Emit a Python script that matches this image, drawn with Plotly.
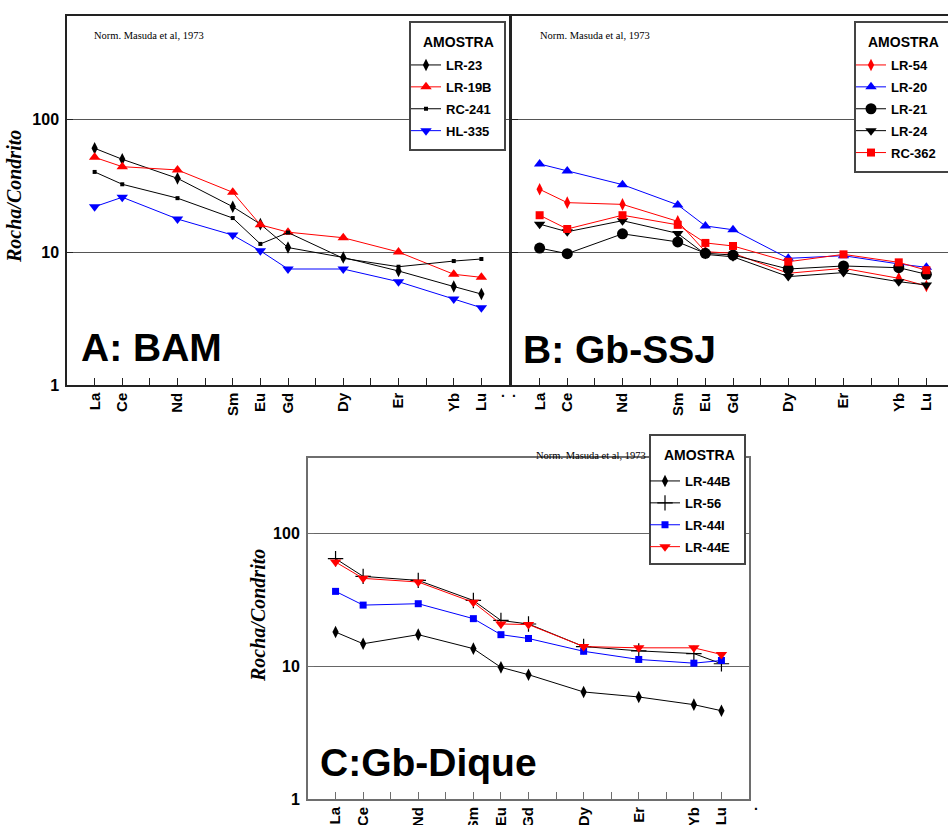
import plotly.graph_objects as go

# ---------------- data ----------------
elements = ["La", "Ce", "Nd", "Sm", "Eu", "Gd", "Dy", "Er", "Yb", "Lu"]
atomic_numbers = [57, 58, 60, 62, 63, 64, 66, 68, 70, 71]
tick_positions = list(range(57, 72))
tick_labels = ["La", "Ce", "", "Nd", "", "Sm", "Eu", "Gd", "", "Dy", "", "Er", "", "Yb", "Lu"]

# Panel A: BAM
a_lr23 = [60.2, 49.8, 35.8, 21.9, 16.2, 10.8, 9.1, 7.2, 5.5, 4.83]
a_lr19b = [51.5, 43.8, 41.4, 28.1, 16.0, 14.1, 12.8, 10.0, 6.8, 6.45]
a_rc241 = [40.0, 32.3, 25.4, 18.0, 11.5, 14.0, 8.96, 7.75, 8.55, 8.86]
a_hl335 = [21.9, 25.8, 17.7, 13.4, 10.2, 7.45, 7.45, 5.98, 4.43, 3.81]

# Panel B: Gb-SSJ
b_lr54 = [29.6, 23.5, 22.8, 17.0, 10.05, 9.78, 6.92, 7.54, 6.34, 5.55]
b_lr20 = [45.9, 40.6, 32.1, 22.6, 15.7, 14.7, 8.96, 9.38, 8.13, 7.67]
b_lr21 = [10.7, 9.71, 13.7, 11.9, 9.78, 9.49, 7.45, 7.85, 7.62, 6.8]
b_lr24 = [16.2, 14.2, 17.2, 13.8, 9.6, 9.2, 6.53, 7.0, 5.98, 5.65]
b_rc362 = [18.9, 14.9, 18.9, 16.0, 11.7, 11.1, 8.45, 9.6, 8.36, 7.3]

# Panel C: Gb-Dique
c_lr44b = [18.0, 14.7, 17.2, 13.5, 9.77, 8.6, 6.38, 5.85, 5.12, 4.61]
c_lr56 = [64.1, 47.2, 44.0, 31.1, 22.0, 20.7, 14.0, 13.0, 12.4, 10.4]
c_lr44i = [36.4, 28.7, 29.4, 22.7, 17.2, 16.1, 12.9, 11.2, 10.5, 11.0]
c_lr44e = [60.5, 45.6, 42.8, 30.1, 20.7, 20.5, 14.0, 13.7, 13.7, 12.2]

W, H = 948, 825
SANS = "Liberation Sans"
SERIF = "Liberation Serif"


def px_x(p):
    return p / W


def px_y(p):
    return (H - p) / H


fig = go.Figure()


def add(name, vals, color, symbol, size, xa, ya, leg, mline=0):
    fig.add_trace(go.Scatter(
        x=atomic_numbers, y=vals, mode="lines+markers", name=name,
        line=dict(color=color, width=1),
        marker=dict(symbol=symbol, size=size, color=color,
                    line=dict(width=mline, color=color)),
        xaxis=xa, yaxis=ya, legend=leg, legendgroup=name,
    ))


RED, BLUE, BLACK = "#ff0000", "#0000ff", "#000000"

add("LR-23", a_lr23, BLACK, "diamond-tall", 9, "x", "y", "legend")
add("LR-19B", a_lr19b, RED, "triangle-up", 10, "x", "y", "legend")
add("RC-241", a_rc241, BLACK, "square", 4, "x", "y", "legend")
add("HL-335", a_hl335, BLUE, "triangle-down", 10, "x", "y", "legend")

add("LR-54", b_lr54, RED, "diamond-tall", 9, "x2", "y2", "legend2")
add("LR-20", b_lr20, BLUE, "triangle-up", 10, "x2", "y2", "legend2")
add("LR-21", b_lr21, BLACK, "circle", 11, "x2", "y2", "legend2")
add("LR-24", b_lr24, BLACK, "triangle-down", 10, "x2", "y2", "legend2")
add("RC-362", b_rc362, RED, "square", 8, "x2", "y2", "legend2")

add("LR-44B", c_lr44b, BLACK, "diamond-tall", 9, "x3", "y3", "legend3")
add("LR-56", c_lr56, BLACK, "cross-thin", 11, "x3", "y3", "legend3", mline=1.2)
add("LR-44I", c_lr44i, BLUE, "square", 7, "x3", "y3", "legend3")
add("LR-44E", c_lr44e, RED, "triangle-down", 10, "x3", "y3", "legend3")


def xaxis(domain, rng, lc, lw, anchor, mirror=True):
    return dict(domain=domain, range=rng, tickmode="array", tickvals=tick_positions,
                ticktext=tick_labels, tickangle=-90, ticks="inside", ticklen=7,
                tickcolor=lc, tickwidth=1, showgrid=False, zeroline=False,
                showline=True, linecolor=lc, linewidth=lw, mirror=mirror,
                anchor=anchor, automargin=False,
                tickfont=dict(family=SANS, size=15, color="black", weight="bold"),
                fixedrange=True)


def yaxis(domain, rng, lc, lw, anchor, labels=True, mirror=True, gc="#555555"):
    return dict(domain=domain, range=rng, type="log", tickmode="array",
                tickvals=[1, 10, 100], ticktext=["1", "10", "100"],
                ticks="inside", ticklen=6, tickcolor=lc, showgrid=True,
                gridcolor=gc, gridwidth=1, zeroline=False, showline=True,
                linecolor=lc, linewidth=lw, mirror=mirror, anchor=anchor,
                showticklabels=labels, ticklabelstandoff=3, automargin=False,
                tickfont=dict(family=SANS, size=16, color="black", weight="bold"),
                fixedrange=True)


# Panel geometry in pixels
A_L, A_R, A_T, A_B = 67, 509, 16, 385
B_L, B_R = 512, 948
C_L, C_R, C_T, C_B = 308, 749, 458, 799
DEC = 133.0
XPX = (A_R - A_L) / 16.0

fig.update_layout(
    width=W, height=H, autosize=False, margin=dict(l=0, r=0, t=0, b=0, autoexpand=False),
    paper_bgcolor="white", plot_bgcolor="white",
    xaxis=xaxis([px_x(A_L), px_x(A_R)], [56, 72], "#222222", 1.5, "y"),
    yaxis=yaxis([px_y(A_B), px_y(A_T)], [0, (A_B - A_T) / DEC], "#222222", 1.5, "x"),
    xaxis2=xaxis([px_x(B_L), 1.0], [56, 56 + (B_R - B_L) / XPX], "#222222", 1.5, "y2"),
    yaxis2=yaxis([px_y(A_B), px_y(A_T)], [0, (A_B - A_T) / DEC], "#222222", 1.5, "x2",
                 labels=False, mirror=False),
    xaxis3=xaxis([px_x(C_L), px_x(C_R)], [56, 72], "#6e6e6e", 2, "y3"),
    yaxis3=yaxis([px_y(C_B), px_y(C_T)], [0, (C_B - C_T) / DEC], "#6e6e6e", 2, "x3",
                 gc="#666666"),
    showlegend=True,
)

# legends: plotly legends (no border) placed inside hand-drawn boxes
leg_common = dict(
    bgcolor="rgba(0,0,0,0)", borderwidth=0,
    font=dict(family=SANS, size=13, color="black", weight="bold"),
    tracegroupgap=2, itemwidth=30, yanchor="top", xanchor="left",
)
fig.update_layout(
    legend=dict(x=px_x(406), y=px_y(50), **leg_common),
    legend2=dict(x=px_x(851), y=px_y(50), **leg_common),
    legend3=dict(x=px_x(645), y=px_y(466), **leg_common),
)

boxes = [(410, 22, 505, 150), (855, 22, 975, 172), (650, 435, 745, 564)]
shapes = []
for (x0, y0, x1, y1) in boxes:
    shapes.append(dict(type="rect", xref="paper", yref="paper",
                       x0=px_x(x0), x1=px_x(x1), y0=px_y(y1), y1=px_y(y0),
                       fillcolor="white", line=dict(color="#444444", width=2),
                       layer="above"))
fig.update_layout(shapes=shapes)

ann = []
# legend titles
for (xx, yy) in [(421, 42), (866, 42), (662, 455)]:
    ann.append(dict(text="AMOSTRA", x=px_x(xx), y=px_y(yy), xref="paper", yref="paper",
                    xanchor="left", yanchor="middle", showarrow=False,
                    font=dict(family=SANS, size=14, color="black", weight="bold")))
# normalization note
for (xx, yy) in [(92, 36), (538, 36), (534, 455)]:
    ann.append(dict(text="Norm. Masuda et al, 1973", x=px_x(xx), y=px_y(yy),
                    xref="paper", yref="paper", xanchor="left", yanchor="middle",
                    showarrow=False, font=dict(family=SERIF, size=10.5, color="black")))
# panel labels
for (txt, xx, yy) in [("A: BAM", 79, 347), ("B: Gb-SSJ", 521, 350), ("C:Gb-Dique", 318, 762)]:
    ann.append(dict(text=txt, x=px_x(xx), y=px_y(yy), xref="paper", yref="paper",
                    xanchor="left", yanchor="middle", showarrow=False,
                    font=dict(family=SANS, size=39, color="black", weight="bold")))
# y-axis titles
for (xx, yy) in [(14, 197), (258, 616)]:
    ann.append(dict(text="Rocha/Condrito", x=px_x(xx), y=px_y(yy), xref="paper",
                    yref="paper", xanchor="center", yanchor="middle", textangle=-90,
                    showarrow=False,
                    font=dict(family=SERIF, size=20, color="black", weight="bold",
                              style="italic")))
# stray dots
for (xx, yy) in [(503, 392), (514, 392), (756, 805)]:
    ann.append(dict(text=".", x=px_x(xx), y=px_y(yy), xref="paper", yref="paper",
                    xanchor="center", yanchor="middle", showarrow=False,
                    font=dict(family=SANS, size=14, color="black", weight="bold")))
fig.update_layout(annotations=ann)

fig.write_html("out.html", config={"displayModeBar": False},
               post_script="document.body.style.margin='0';")
